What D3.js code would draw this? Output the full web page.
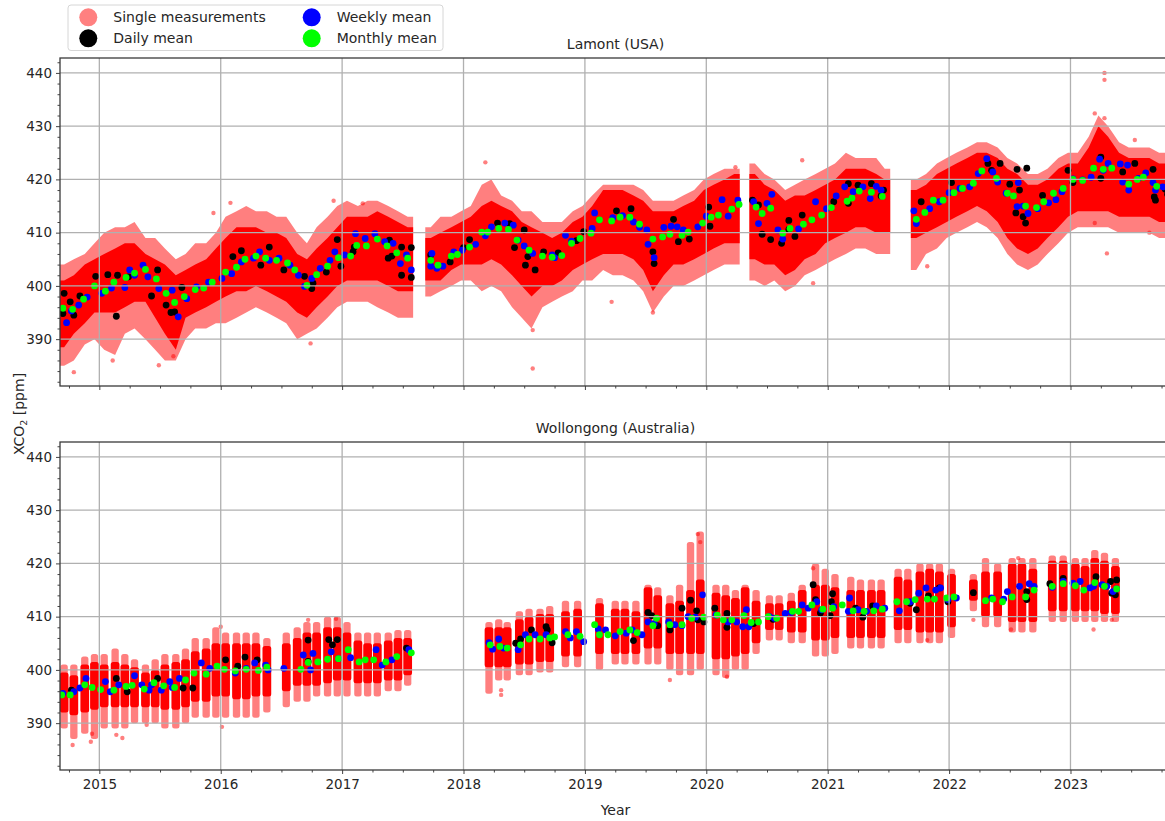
<!DOCTYPE html>
<html>
<head>
<meta charset="utf-8">
<script src="https://cdn.jsdelivr.net/npm/d3@7"></script>
<style>
body { margin: 0; background: #fff; }
text { font-family: "DejaVu Sans", sans-serif; fill: #262626; }
</style>
</head>
<body>
<div id="main"></div>
<script>
// ---- data ----
var yearTicks = [2015, 2016, 2017, 2018, 2019, 2020, 2021, 2022, 2023];
var ppmTicks = [390, 400, 410, 420, 430, 440];
var legendLabels = ['Single measurements', 'Daily mean', 'Weekly mean', 'Monthly mean'];

// single measurements, per month: [time, core low, core high, spread low, spread high]
var lamontSingle = [
  [2014.71,388.5,401,385,404],[2014.79,391,402,386,405],[2014.88,393,404,389,406],[2014.96,395,405,390,408],
  [2015.04,395,406,388,410],[2015.13,395,407,387,411],[2015.21,396,408,391,411],[2015.29,397,408,392,412],
  [2015.38,397,406,390,409],[2015.46,394,405,388,409],[2015.54,391,404,386,407],[2015.63,388,402,386,405],
  [2015.71,394,403,390,406],[2015.79,395,404,392,408],[2015.88,396,405,392,408],[2015.96,397,407,393,410],
  [2016.04,398,409,393,413],[2016.13,399,411,394,414],[2016.21,399,411,395,415],[2016.29,400,411,396,414],
  [2016.38,399,410,395,414],[2016.46,398,410,394,413],[2016.54,397,409,393,413],[2016.63,395,406,390,410],
  [2016.71,394,405,391,408],[2016.79,396,407,392,411],[2016.88,398,409,394,413],[2016.96,400,411,396,415],
  [2017.04,401,413,397,416],[2017.13,401,413,397,415],[2017.21,401,413,397,416],[2017.29,401,414,396,416],
  [2017.38,400,413,395,415],[2017.46,399,412,394,414],[2017.54,399,411,394,413],
  [2017.73,401,409,398,411],[2017.81,401,410,399,413],[2017.90,403,411,400,413],[2017.98,404,412,401,414],
  [2018.06,404,413,401,415],[2018.15,404,415,399,419],[2018.23,405,416,400,420],[2018.31,404,415,399,417],
  [2018.40,402,414,396,416],[2018.48,400,412,394,414],[2018.56,398,411,392,414],[2018.65,400,410,396,412],
  [2018.73,400,409,397,412],[2018.81,401,410,398,412],[2018.90,403,412,399,414],[2018.98,404,413,401,415],
  [2019.06,405,415,401,417],[2019.15,406,418,403,419],[2019.23,406,418,402,419],[2019.31,406,418,402,419],
  [2019.40,405,417,401,419],[2019.48,403,416,399,418],[2019.56,399,414,395,416],[2019.65,402,414,398,416],
  [2019.73,404,414,400,416],[2019.81,404,415,400,417],[2019.90,405,416,401,418],[2019.98,406,418,402,420],
  [2020.06,407,419,403,421],[2020.15,408,420,404,422],[2020.23,408,421,404,422],
  [2020.40,405,421,401,423],[2020.48,404,419,400,421],[2020.56,404,418,401,420],[2020.65,402,416,399,418],
  [2020.73,403,417,400,419],[2020.81,405,417,402,420],[2020.90,406,418,403,421],[2020.98,408,419,404,422],
  [2021.06,409,420,405,423],[2021.15,410,422,406,425],[2021.23,411,422,407,424],[2021.31,411,422,407,424],
  [2021.40,410,421,406,424],[2021.47,410,420,406,422],
  [2021.73,409,418,403,420],[2021.81,410,419,406,421],[2021.90,411,421,407,423],[2021.98,412,422,409,424],
  [2022.06,413,423,410,425],[2022.15,414,424,411,426],[2022.23,415,425,412,427],[2022.31,414,425,411,427],
  [2022.40,412,424,409,426],[2022.48,409,422,406,424],[2022.56,407,421,404,423],[2022.65,406,419,403,421],
  [2022.73,407,419,404,421],[2022.81,409,420,406,422],[2022.90,411,422,408,424],[2022.98,413,423,410,425],
  [2023.06,414,423,411,425],[2023.15,414,426,411,428],[2023.23,414,430,411,432],[2023.31,414,428,411,430],
  [2023.40,413,425,410,427],[2023.48,413,424,410,426],[2023.56,413,424,410,426],[2023.65,413,424,410,426],
  [2023.73,412,423,409,425],[2023.81,412,423,409,425]
];
var lamontOutliers = [
  [2014.79,383.8],[2015.11,386],[2015.49,385.1],[2015.61,386.8],[2015.94,413.7],[2016.08,415.6],
  [2016.93,416],[2017.17,415.5],[2016.74,389.2],[2018.57,384.5],[2018.57,391.7],[2018.18,423.2],
  [2019.22,397],[2019.56,395],[2020.24,422.3],[2020.79,423.6],[2020.88,400.5],[2021.82,403.7],
  [2023.30,406.1],[2023.65,410],[2023.28,440],[2023.28,438.7],[2023.20,432.4],[2023.28,431.5],
  [2023.53,427.4],[2023.20,411.8]
];
var lamontDaily = [
  [2014.71,398.6],[2014.70,394.8],[2014.76,397],[2014.79,394.5],[2014.84,398.1],[2014.97,401.8],
  [2015.07,402.1],[2015.14,394.3],[2015.15,402],[2015.24,401.7],[2015.43,398.1],[2015.48,403],
  [2015.55,396.4],[2015.59,395],[2015.62,395.1],[2015.68,399.7],[2016.10,405.5],[2016.17,406.6],
  [2016.33,403.9],[2016.40,407.3],[2016.52,403],[2016.69,401.8],[2016.75,399.5],[2016.76,400.5],
  [2016.87,402.6],[2016.96,408.7],[2016.99,403.7],[2017.09,406.4],[2017.10,407.3],[2017.38,405.2],
  [2017.39,408.6],[2017.41,405.6],[2017.49,407.3],[2017.49,402],[2017.57,407.2],[2017.57,401.6],
  [2017.73,405.8],[2017.89,404.5],[2018.00,407.2],[2018.05,408.7],[2018.28,411.8],[2018.38,411.7],
  [2018.42,407.2],[2018.50,410.5],[2018.51,403.9],[2018.53,405.5],[2018.59,403],[2018.66,406.4],
  [2018.78,406.2],[2018.93,408.5],[2018.99,410.2],[2019.26,414.1],[2019.38,414.5],[2019.56,406.4],
  [2019.57,404.2],[2019.73,412.5],[2019.77,408.3],[2019.86,408.8],[2020.03,411.2],[2020.02,414.8],
  [2020.38,416.1],[2020.43,415.2],[2020.46,409.7],[2020.53,408.7],[2020.62,408],[2020.68,412.3],
  [2020.68,410.6],[2020.73,409.3],[2020.79,413.3],[2021.05,415.8],[2021.17,419.2],[2021.17,415.5],
  [2021.25,418.9],[2021.36,419.2],[2021.46,418],[2021.44,416.9],[2021.77,415.8],[2022.02,419.4],
  [2022.32,423],[2022.35,421.7],[2022.42,423],[2022.50,419.1],[2022.56,421.9],[2022.64,422.1],
  [2022.58,418],[2022.55,413.7],[2022.61,413],[2022.63,411.8],[2022.77,417],[2022.98,421.7],
  [2023.02,419.4],[2023.25,424.2],[2023.25,420.2],[2023.53,423],[2023.43,421.4],[2023.68,421.9],
  [2023.69,416.7],[2023.70,416.1],[2023.78,418.2],[2023.80,417.2]
];
var lamontWeekly = [
  [2014.73,393.1],[2014.77,395.3],[2014.83,396.4],[2014.90,397.9],[2015.02,398.6],[2015.10,399.6],
  [2015.21,399.7],[2015.25,403],[2015.29,402],[2015.36,403.9],[2015.40,401.7],[2015.49,399.5],
  [2015.60,399.2],[2015.65,394.2],[2015.72,397.6],[2015.80,399.8],[2015.90,400.7],[2016.01,401.4],
  [2016.09,402.3],[2016.17,404.5],[2016.27,405.2],[2016.32,406.4],[2016.40,404.8],[2016.48,405.2],
  [2016.57,403.9],[2016.64,402],[2016.69,399.9],[2016.75,401.4],[2016.82,403.3],[2016.90,404.8],
  [2016.94,406.4],[2017.02,405.8],[2017.11,409.8],[2017.19,408.9],[2017.27,409.8],[2017.35,408.3],
  [2017.42,408],[2017.48,404.2],[2017.53,405.8],[2017.57,403],[2017.73,403.7],[2017.74,406.1],
  [2017.78,403.3],[2017.83,403.7],[2017.92,406.4],[2017.99,406.7],[2018.10,407.8],[2018.18,409.4],
  [2018.23,411.1],[2018.34,411.8],[2018.41,411.4],[2018.45,408.6],[2018.50,407.5],[2018.57,406.1],
  [2018.73,405.8],[2018.75,405.3],[2018.84,409.5],[2018.89,408.4],[2019.06,410.8],[2019.08,413.7],
  [2019.23,412.8],[2019.31,413.2],[2019.40,412],[2019.45,411],[2019.51,410.5],[2019.52,407.8],
  [2019.57,405.3],[2019.65,411],[2019.71,411.2],[2019.76,411.1],[2019.81,410.5],[2019.93,411.1],
  [2020.00,413.1],[2020.13,416.2],[2020.18,413.1],[2020.26,416.1],[2020.39,415.8],[2020.43,411.7],
  [2020.50,415.5],[2020.54,417.2],[2020.59,410.5],[2020.63,408.8],[2020.76,410.7],[2020.90,415.8],
  [2020.99,414.5],[2021.07,416.9],[2021.14,418.6],[2021.21,417.7],[2021.29,418.6],[2021.35,416.4],
  [2021.40,418.7],[2021.44,418],[2021.71,414.1],[2021.73,411.7],[2021.84,414.5],[2021.92,415.8],
  [2022.00,417.5],[2022.09,418.3],[2022.17,418.6],[2022.24,421.1],[2022.31,423.9],[2022.36,421.4],
  [2022.40,419.5],[2022.47,417.4],[2022.56,414.9],[2022.57,419.4],[2022.61,415],[2022.65,413.6],
  [2022.73,414.5],[2022.82,415.6],[2022.88,416.2],[2022.93,417.7],[2023.02,420.1],[2023.10,419.9],
  [2023.17,420.4],[2023.24,423.8],[2023.27,421.7],[2023.31,423],[2023.41,422.9],[2023.43,419.5],
  [2023.47,422.7],[2023.48,418],[2023.56,420.2],[2023.62,421.2],[2023.68,419.4],[2023.70,418],
  [2023.76,418.6]
];
var lamontMonthly = [
  [2014.70,395.8],[2014.78,395.6],[2014.87,397.5],[2014.96,400],[2015.05,399],[2015.12,400.7],
  [2015.22,401.6],[2015.29,402.4],[2015.38,403.1],[2015.47,401.3],[2015.55,398.6],[2015.62,396.9],
  [2015.70,398],[2015.79,399.3],[2015.86,399.6],[2015.93,400.7],[2016.04,402.6],[2016.13,403.5],
  [2016.20,405],[2016.29,405.6],[2016.37,405.2],[2016.46,404.8],[2016.55,404.3],[2016.61,403],
  [2016.71,400.1],[2016.79,402.1],[2016.88,403.7],[2016.97,405.3],[2017.07,405.6],[2017.12,407.6],
  [2017.20,407.5],[2017.29,408.8],[2017.37,407.5],[2017.45,406.2],[2017.54,405.2],[2017.73,404.8],
  [2017.79,403.9],[2017.90,405.6],[2017.95,405.9],[2018.05,407.3],[2018.15,410.1],[2018.20,410.1],
  [2018.29,410.8],[2018.37,410.6],[2018.44,408.6],[2018.54,406.7],[2018.65,405.6],[2018.73,405.4],
  [2018.81,405.7],[2018.89,408.0],[2018.96,408.9],[2019.05,409.9],[2019.12,412.4],[2019.22,412.2],
  [2019.29,412.9],[2019.37,412.9],[2019.45,411.6],[2019.56,408.8],[2019.64,409.2],[2019.70,409.7],
  [2019.80,409.5],[2019.85,410.1],[2019.97,411.8],[2020.04,412.9],[2020.10,413.3],[2020.21,414.4],
  [2020.27,415.3],[2020.41,414.8],[2020.46,413.6],[2020.53,414.6],[2020.63,409.9],[2020.69,410.8],
  [2020.80,411.6],[2020.87,412.4],[2020.95,413.3],[2021.03,414.7],[2021.16,415.9],[2021.20,416.5],
  [2021.26,417.8],[2021.36,417.6],[2021.45,416.8],[2021.73,412.5],[2021.80,413.8],[2021.87,416.1],
  [2021.95,416.1],[2022.04,417.5],[2022.11,418.3],[2022.20,419.3],[2022.27,421.6],[2022.39,420.2],
  [2022.48,417.4],[2022.53,416.9],[2022.63,415.0],[2022.72,414.7],[2022.78,415.8],[2022.86,417.4],
  [2022.94,418.3],[2023.02,420],[2023.10,419.8],[2023.19,422.1],[2023.27,421.9],[2023.34,422.1],
  [2023.48,419.1],[2023.55,420],[2023.60,420.4],[2023.71,418.7]
];

var wollongongSingle = [
  [2014.71,392,399.5,389,401],[2014.79,391.5,399,387,401],[2014.88,392,401,388,402.5],[2014.96,392.5,401.5,387,403],
  [2015.04,393,401,389,403],[2015.13,393,401.5,389,404],[2015.21,393,401,389,403],[2015.29,393,400.5,390,402],
  [2015.38,393,399.5,390,401],[2015.46,393,400,390,402],[2015.54,392.5,401,389,403],[2015.63,392.5,401.5,389,403],
  [2015.71,393,402,390,404],[2015.79,394,403.5,391,406],[2015.88,394,404,391,406],[2015.96,395,405,391,408],
  [2016.04,395,405,391,407],[2016.13,394.5,405,391,407],[2016.21,394.5,405,391,407],[2016.29,395,405,391,407],
  [2016.38,395,404.5,392,406],[2016.54,396,405,393,407],[2016.63,397,406,394,408],[2016.71,397,407,394,409],
  [2016.79,397,407,395,409],[2016.88,397.5,408,395,410],[2016.96,398,408,395,410],[2017.04,398,407,395,409],
  [2017.13,397.5,405.5,395,407],[2017.21,397.5,405,395,407],[2017.29,397.5,405,395,407],[2017.38,398,405.5,396,407],
  [2017.46,398,406,396,407.5],[2017.54,399,406,397,407.5],
  [2018.21,400.5,408,395.5,409],[2018.29,400.5,408,398,409.5],[2018.36,400.5,408,398,409],[2018.46,401,409.5,399,411],
  [2018.54,401,410,399,411.5],[2018.63,401.5,410.5,399.5,411.5],[2018.71,401.5,410.5,399.5,412],[2018.84,402.5,411,400.5,413],
  [2018.94,402.5,411.5,400.5,413],[2019.12,403,412.5,400,413.5],[2019.25,403,411.5,401,413],[2019.33,403,411.5,401,413],
  [2019.42,403,411,401,413],[2019.52,404,415.5,401,416],[2019.60,404,414,401,415.5],[2019.70,403,412.5,400,414],
  [2019.78,403,413,399,416],[2019.87,403,415,399,424],[2019.95,403,417,400,426],[2020.08,402,414.5,399,416],
  [2020.16,402,414,398.5,416],[2020.24,402.5,413.5,400,415],[2020.32,403,415.5,400,416],[2020.41,405,413,403,415],
  [2020.52,407.5,412.5,405.5,414],[2020.60,407.5,412.5,405.5,414],[2020.70,407,413,405,414.5],[2020.79,407,415,405,416],
  [2020.90,405.5,416,402.5,420],[2020.98,405.5,416,402.5,419],[2021.06,406,415.5,403,418],[2021.19,406,415,404,417.5],
  [2021.27,406,415,404,417],[2021.36,406,415,404,417],[2021.44,406,415,404,417],[2021.58,407.5,417.5,405,419],
  [2021.66,407.5,417,405,419],[2021.76,407,418.5,405,420],[2021.84,407,419,405,420],[2021.92,407,418.5,405,420],
  [2022.02,408,418,406,419],[2022.20,413,417,411,418],[2022.30,410,418.5,408,421],[2022.40,410,418.5,408,420],
  [2022.52,409,420,407,421],[2022.60,409,420,407,421],[2022.69,409,419,407,421],[2022.85,411,420.5,409,421.5],
  [2022.94,411,420.5,409,421.5],[2023.04,411,420,409,421],[2023.12,411,419.5,409,421],[2023.20,411,421,409,422.5],
  [2023.28,410.5,420.5,409,422],[2023.37,410.5,419.5,409,421]
];
var wollongongOutliers = [
  [2014.78,385.9],[2014.93,386.5],[2014.94,388],[2015.14,387.8],[2015.19,387.2],[2015.39,389.7],
  [2016.01,389.3],[2016.00,408.1],[2016.72,409.4],[2016.95,409.6],[2018.31,396.2],[2018.31,395.3],
  [2019.70,398.1],[2020.17,398.7],[2020.88,419.1],[2022.57,421],[2023.19,407.6],[2023.34,409.4],
  [2022.51,407.6],[2022.20,409.4],[2021.82,405.6],[2019.93,425.5],[2019.95,424]
];
var wollongongDaily = [
  [2014.77,396.2],[2015.14,398.4],[2015.23,395.9],[2015.48,398.4],[2015.69,396.6],[2015.77,396.6],
  [2016.04,401.9],[2016.14,400.7],[2016.20,402.4],[2016.30,401.9],[2016.72,405.6],[2016.89,405.7],
  [2016.92,404.7],[2016.96,405.7],[2016.72,401.6],[2017.53,404.1],[2018.43,405],[2018.47,405.8],
  [2018.56,407.5],[2018.68,408.1],[2018.69,407.5],[2018.73,405.1],[2019.40,405.5],[2019.52,410.8],
  [2019.55,410.2],[2019.60,408.3],[2019.70,407.5],[2019.80,411.6],[2019.87,413.1],[2019.92,411.1],
  [2019.93,409.4],[2019.98,409],[2020.07,411.6],[2020.17,410.6],[2020.17,408],[2020.39,408.7],
  [2020.55,409.5],[2020.88,416],[2020.90,413.2],[2020.94,410.7],[2021.02,410.2],[2021.04,414.3],
  [2021.03,412.8],[2021.23,411.6],[2021.29,409.9],[2021.37,412],[2021.68,412.5],[2021.73,411.3],
  [2021.83,413.9],[2021.92,415.4],[2021.99,412.8],[2022.20,414.5],[2022.64,414.7],[2022.64,413.2],
  [2022.83,416.2],[2022.94,417.2],[2023.21,417.5],[2023.33,416.6],[2023.34,414.4],[2023.38,416.9],
  [2023.37,414.1]
];
var wollongongWeekly = [
  [2014.70,395.6],[2014.79,395.9],[2014.84,396.6],[2014.89,398.4],[2015.05,397.8],[2015.09,395.9],
  [2015.16,397.2],[2015.29,398.9],[2015.35,397.2],[2015.41,396.2],[2015.43,397.2],[2015.51,396.2],
  [2015.58,397.8],[2015.60,396.7],[2015.66,398.4],[2015.84,401.3],[2015.91,400.3],[2016.12,399.4],
  [2016.21,400.3],[2016.28,401.3],[2016.37,400.9],[2016.39,400],[2016.52,400.3],[2016.68,402.8],
  [2016.74,400],[2016.76,403.1],[2016.91,403.4],[2016.97,402.1],[2017.07,402.3],[2017.28,403.8],
  [2017.33,400.9],[2017.41,401.9],[2017.55,403.8],[2018.21,405.1],[2018.24,403.9],[2018.29,405.8],
  [2018.33,404.1],[2018.45,403.8],[2018.51,406.6],[2018.59,406.6],[2018.68,406.6],[2018.84,407.2],
  [2018.88,406],[2018.93,407.2],[2018.99,405.3],[2019.11,407.7],[2019.17,407.5],[2019.25,406.4],
  [2019.34,406.9],[2019.39,407.5],[2019.47,406.6],[2019.52,409],[2019.57,408.7],[2019.69,409],
  [2019.74,408.5],[2019.80,408.3],[2019.85,410],[2019.91,409.9],[2019.97,414.1],[2020.08,410.3],
  [2020.18,409],[2020.25,409],[2020.30,408.1],[2020.33,411.3],[2020.35,408.1],[2020.52,410],
  [2020.56,409.7],[2020.65,410.6],[2020.70,410.8],[2020.79,412.2],[2020.84,411.6],[2020.91,412.8],
  [2020.95,411.3],[2021.05,411.9],[2021.17,411],[2021.18,413.5],[2021.25,411.3],[2021.32,411],
  [2021.40,412],[2021.47,411.6],[2021.59,411.1],[2021.68,412.8],[2021.75,414.4],[2021.81,415.4],
  [2021.89,415],[2021.93,415.4],[2021.99,413.2],[2022.06,413.5],[2022.35,413.5],[2022.45,413.3],
  [2022.48,414.7],[2022.58,415.7],[2022.66,416.2],[2022.70,415.7],[2022.85,415.5],[2022.94,416.6],
  [2023.02,416.3],[2023.08,416.6],[2023.16,415.4],[2023.19,415.7],[2023.26,416],[2023.30,415.7],
  [2023.35,414.7],[2023.38,415.2]
];
var wollongongMonthly = [
  [2014.69,395.3],[2014.76,395.3],[2014.88,397.2],[2014.94,396.7],[2015.01,396.3],[2015.12,396.2],
  [2015.22,396.9],[2015.27,397.1],[2015.37,396.4],[2015.45,397.6],[2015.53,397.0],[2015.62,396.7],
  [2015.71,398.1],[2015.78,399.4],[2015.88,399.2],[2015.97,400.7],[2016.03,400.1],[2016.12,399.8],
  [2016.21,400.1],[2016.31,399.9],[2016.38,400.5],[2016.66,400.1],[2016.72,401.4],[2016.80,401.5],
  [2016.88,402],[2016.97,402.1],[2017.05,403.8],[2017.14,401.5],[2017.19,401.9],[2017.26,401.9],
  [2017.36,401.5],[2017.45,402.5],[2017.57,403.2],[2018.22,404.7],[2018.30,404.4],[2018.36,404.1],
  [2018.47,404.7],[2018.54,405.8],[2018.63,405.8],[2018.71,406],[2018.75,406.2],[2018.86,406.6],
  [2018.96,406.3],[2019.08,408.5],[2019.12,406.6],[2019.19,406.6],[2019.29,407.2],[2019.37,407.5],
  [2019.43,407],[2019.56,408.3],[2019.59,409.7],[2019.70,408.5],[2019.80,408.5],[2019.88,409.7],
  [2019.98,409.9],[2020.09,410.3],[2020.14,409.4],[2020.21,409.4],[2020.31,410.2],[2020.37,408.9],
  [2020.43,409],[2020.51,410],[2020.58,409.7],[2020.71,411],[2020.76,411],[2020.87,412.2],
  [2020.96,411.4],[2021.04,411.6],[2021.12,412.2],[2021.21,411.1],[2021.30,411],[2021.38,411.1],
  [2021.45,411.4],[2021.57,412.8],[2021.65,412.8],[2021.72,413.2],[2021.82,413.3],[2021.88,413.3],
  [2021.98,413.5],[2022.04,413.7],[2022.30,413],[2022.36,413.3],[2022.44,412.8],[2022.52,413.7],
  [2022.63,413.7],[2022.70,415],[2022.85,415.7],[2022.94,416.2],[2023.04,415.8],[2023.11,415],
  [2023.20,416.4],[2023.28,415.7],[2023.38,415.2]
];

// ---- drawing ----
var W = 1165, H = 821;
var svg = d3.select('#main').append('svg')
            .attr('width', W)
            .attr('height', H)
            .style('display', 'block');
svg.append('rect').attr('width', W).attr('height', H).attr('fill', '#fff');

var plotLeft = 60, plotRight = 1171;
var x = d3.scaleLinear().domain([2014.676, 2023.828]).range([plotLeft, plotRight]);

var panels = [
  {id: 'lam', title: 'Lamont (USA)', top: 58, bottom: 386, colW: 0.09, labels: false, band: true,
   single: lamontSingle, outliers: lamontOutliers, daily: lamontDaily, weekly: lamontWeekly, monthly: lamontMonthly},
  {id: 'wol', title: 'Wollongong (Australia)', top: 442, bottom: 770, colW: 0.072, labels: true, band: false,
   single: wollongongSingle, outliers: wollongongOutliers, daily: wollongongDaily, weekly: wollongongWeekly, monthly: wollongongMonthly}
];

var minorX = d3.range(2014.75, 2023.83, 0.25).filter(function(v){ return Math.abs(v - Math.round(v)) > 0.01; });
var minorY = d3.range(382, 443, 2).filter(function(v){ return v % 10 !== 0; });

// split a monthly list into runs without observation gaps
function runs(list, gap) {
  var out = [], cur = [];
  list.forEach(function(d, i) {
    if (i > 0 && d[0] - list[i - 1][0] > gap) { out.push(cur); cur = []; }
    cur.push(d);
  });
  if (cur.length) out.push(cur);
  return out;
}

panels.forEach(function(p) {
  var y = d3.scaleLinear().domain([381.2, 442.8]).range([p.bottom, p.top]);

  svg.append('clipPath').attr('id', 'clip-' + p.id)
     .append('rect')
     .attr('x', plotLeft).attr('y', p.top)
     .attr('width', plotRight - plotLeft).attr('height', p.bottom - p.top);

  var g = svg.append('g').attr('clip-path', 'url(#clip-' + p.id + ')');

  if (p.band) {
    // continuous record: spread and core drawn as bands
    var half = p.colW / 2;
    runs(p.single, 0.12).forEach(function(r) {
      var pts = [[r[0][0] - half].concat(r[0].slice(1))]
                .concat(r)
                .concat([[r[r.length - 1][0] + half].concat(r[r.length - 1].slice(1))]);
      var spread = d3.area()
                     .x(function(d){ return x(d[0]); })
                     .y0(function(d){ return y(d[3]); })
                     .y1(function(d){ return y(d[4]); });
      var core = d3.area()
                   .x(function(d){ return x(d[0]); })
                   .y0(function(d){ return y(d[1]); })
                   .y1(function(d){ return y(d[2]); });
      g.append('path').attr('d', spread(pts)).attr('fill', '#ff0000').attr('opacity', 0.5);
      g.append('path').attr('d', core(pts)).attr('fill', '#ff0000');
    });
  } else {
    // gappy record: one cluster per month
    g.selectAll('rect.spread').data(p.single).join('rect')
     .attr('class', 'spread')
     .attr('x', function(d){ return x(d[0] - p.colW * 0.42); })
     .attr('width', function(d){ return x(d[0] + p.colW * 0.42) - x(d[0] - p.colW * 0.42); })
     .attr('y', function(d){ return y(d[4]); })
     .attr('height', function(d){ return y(d[3]) - y(d[4]); })
     .attr('rx', 2.5)
     .attr('fill', '#ff0000')
     .attr('opacity', 0.5);

    g.selectAll('rect.core').data(p.single).join('rect')
     .attr('class', 'core')
     .attr('x', function(d){ return x(d[0] - p.colW / 2); })
     .attr('width', function(d){ return x(d[0] + p.colW / 2) - x(d[0] - p.colW / 2); })
     .attr('y', function(d){ return y(d[2]); })
     .attr('height', function(d){ return y(d[1]) - y(d[2]); })
     .attr('rx', 2.5)
     .attr('fill', '#ff0000');
  }

  g.selectAll('circle.out').data(p.outliers).join('circle')
   .attr('class', 'out')
   .attr('cx', function(d){ return x(d[0]); })
   .attr('cy', function(d){ return y(d[1]); })
   .attr('r', 2.2)
   .attr('fill', '#ff0000')
   .attr('opacity', 0.5);

  var means = [[p.daily, '#000000'], [p.weekly, '#0000ff'], [p.monthly, '#00ff00']];
  means.forEach(function(m, i) {
    g.selectAll('circle.m' + i).data(m[0]).join('circle')
     .attr('class', 'm' + i)
     .attr('cx', function(d){ return x(d[0]); })
     .attr('cy', function(d){ return y(d[1]); })
     .attr('r', 3.4)
     .attr('fill', m[1]);
  });

  // grid (drawn above the markers, like the original)
  var grid = svg.append('g').attr('clip-path', 'url(#clip-' + p.id + ')');
  grid.selectAll('line.gx').data(yearTicks).join('line')
      .attr('x1', function(d){ return x(d); }).attr('x2', function(d){ return x(d); })
      .attr('y1', p.top).attr('y2', p.bottom)
      .attr('stroke', '#b0b0b0').attr('stroke-width', 1.3);
  grid.selectAll('line.gy').data(ppmTicks).join('line')
      .attr('x1', plotLeft).attr('x2', plotRight)
      .attr('y1', function(d){ return y(d); }).attr('y2', function(d){ return y(d); })
      .attr('stroke', '#b0b0b0').attr('stroke-width', 1.3);

  // axes
  svg.append('g').attr('transform', 'translate(' + plotLeft + ',0)')
     .call(d3.axisLeft(y).tickValues(ppmTicks).tickSize(4).tickPadding(4).tickSizeOuter(0));
  svg.append('g').attr('transform', 'translate(' + plotLeft + ',0)')
     .call(d3.axisLeft(y).tickValues(minorY).tickSize(2.5).tickFormat('').tickSizeOuter(0));

  svg.append('g').attr('transform', 'translate(0,' + p.bottom + ')')
     .call(d3.axisBottom(x).tickValues(yearTicks).tickSize(4).tickPadding(5)
           .tickFormat(p.labels ? d3.format('d') : '').tickSizeOuter(0));
  svg.append('g').attr('transform', 'translate(0,' + p.bottom + ')')
     .call(d3.axisBottom(x).tickValues(minorX).tickSize(2.5).tickFormat('').tickSizeOuter(0));

  svg.selectAll('.domain').remove();
  svg.selectAll('.tick line').attr('stroke', '#444').attr('stroke-width', 1);
  svg.selectAll('.tick text').attr('font-family', '"DejaVu Sans", sans-serif')
     .attr('font-size', 13.5).attr('fill', '#262626');

  // spines
  svg.append('rect')
     .attr('x', plotLeft).attr('y', p.top)
     .attr('width', plotRight - plotLeft).attr('height', p.bottom - p.top)
     .attr('fill', 'none').attr('stroke', '#3a3a3a').attr('stroke-width', 1.3);

  svg.append('text')
     .attr('x', (plotLeft + plotRight) / 2).attr('y', p.top - 9.5)
     .attr('text-anchor', 'middle').attr('font-size', 14)
     .text(p.title);
});

// axis labels
svg.append('text')
   .attr('x', (plotLeft + plotRight) / 2).attr('y', 815)
   .attr('text-anchor', 'middle').attr('font-size', 14)
   .text('Year');

var yl = svg.append('text')
   .attr('transform', 'translate(24,414) rotate(-90)')
   .attr('text-anchor', 'middle').attr('font-size', 14);
yl.append('tspan').text('XCO');
yl.append('tspan').attr('font-size', 9.5).attr('dy', 3).text('2');
yl.append('tspan').attr('dy', -3).text(' [ppm]');

// legend
var legend = svg.append('g');
legend.append('rect')
      .attr('x', 68).attr('y', 5).attr('width', 375).attr('height', 45.5)
      .attr('rx', 3).attr('fill', '#fff').attr('fill-opacity', 0.85)
      .attr('stroke', '#d6d6d6').attr('stroke-width', 1);
var legendColors = ['#ff8080', '#000000', '#0000ff', '#00ff00'];
var legendPos = [[88.3, 17.3], [88.3, 38.3], [311.7, 17.3], [311.7, 38.3]];
legendLabels.forEach(function(lab, i) {
  legend.append('circle')
        .attr('cx', legendPos[i][0]).attr('cy', legendPos[i][1])
        .attr('r', 9).attr('fill', legendColors[i]);
  legend.append('text')
        .attr('x', legendPos[i][0] + 25).attr('y', legendPos[i][1] + 5)
        .attr('font-size', 14)
        .text(lab);
});
</script>
</body>
</html>
